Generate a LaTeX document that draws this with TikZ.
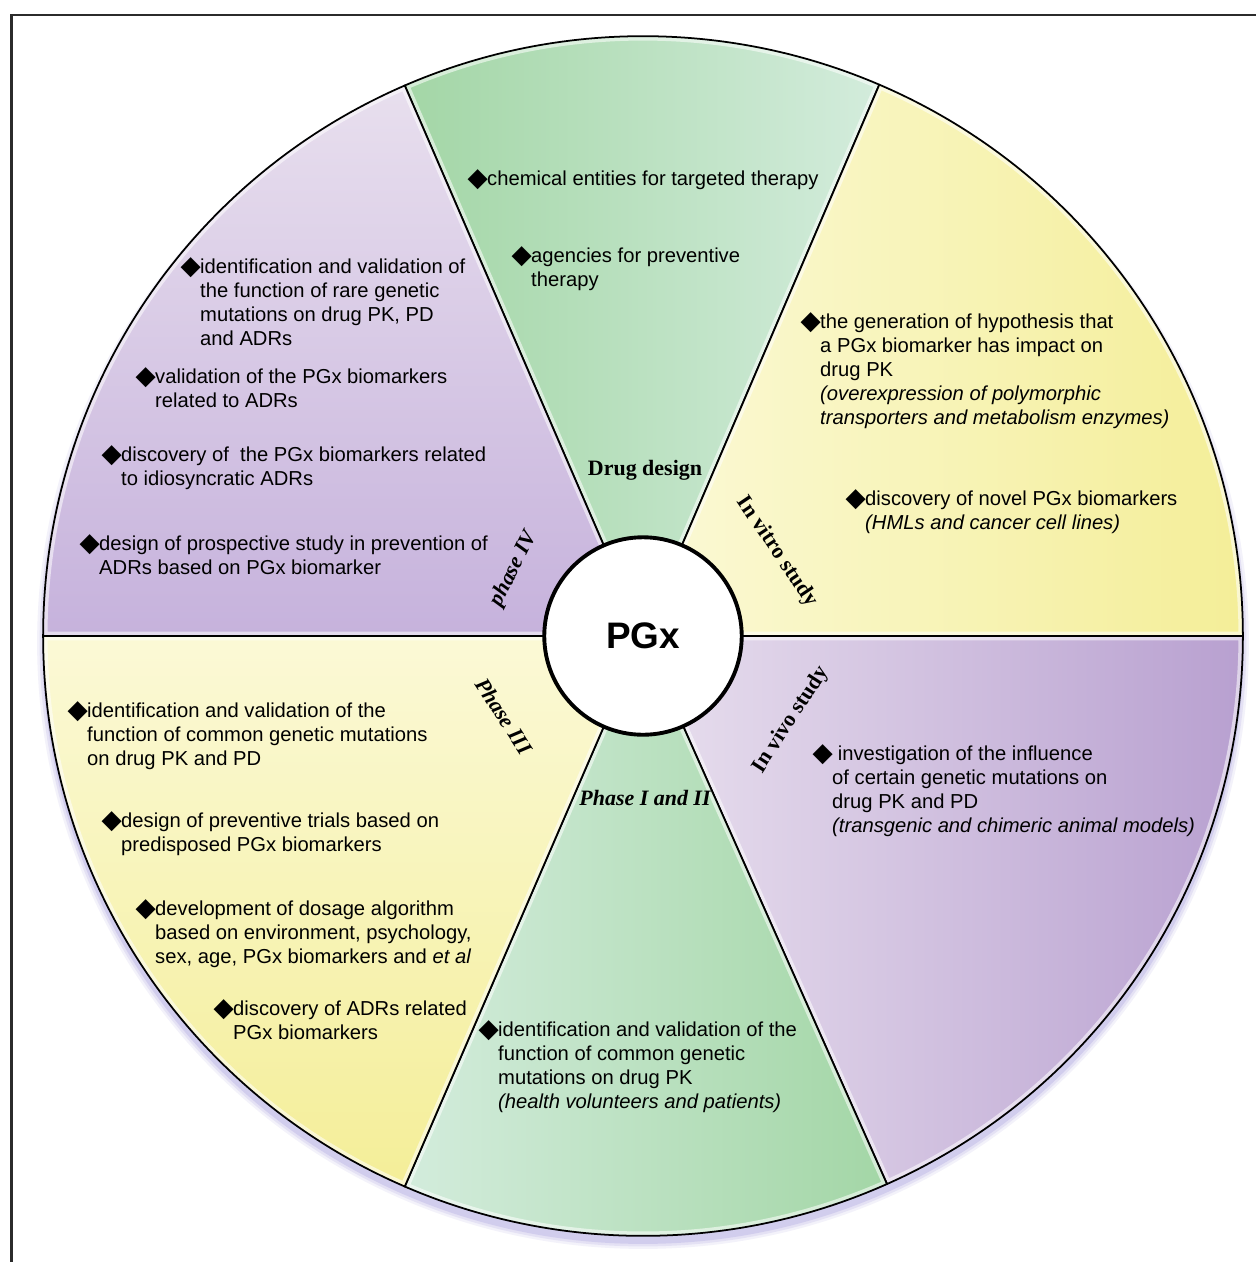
\documentclass[tikz,border=0pt]{standalone}
\usepackage{fontspec}
\usepackage{graphicx}
\setmainfont{Liberation Sans}
\newfontfamily\serifb{Liberation Serif}
\newfontfamily\dejavu{DejaVu Sans}
\usetikzlibrary{calc}
\definecolor{gdark}{HTML}{A3D6A6}
\definecolor{glight}{HTML}{D3ECDC}
\definecolor{ypale}{HTML}{FBF9D6}
\definecolor{ysat}{HTML}{F4EE98}
\definecolor{ppale}{HTML}{E8DFEE}
\definecolor{pdark}{HTML}{B8A0D0}
\definecolor{pmid}{HTML}{C6B2DC}
\definecolor{shadowc}{HTML}{8F86D6}
\definecolor{framec}{HTML}{2B2B2B}
\newcommand\dmd{\makebox[9.6pt][l]{\hspace{-1.6pt}\raisebox{-1.1pt}{\scalebox{1.3}{\dejavu\symbol{"25C6}}}}}
\newcommand\sector[3]{%
  \path[#3] (C) -- ($(C)+(#1:12cm)$) arc[start angle=#1,end angle=#2,radius=12cm] -- cycle;
  \begin{scope}
    \clip (C) -- ($(C)+(#1:12cm)$) arc[start angle=#1,end angle=#2,radius=12cm] -- cycle;
    \draw[white,opacity=.55,line width=5pt] (C) -- ($(C)+(#1:12cm)$) arc[start angle=#1,end angle=#2,radius=12cm] -- cycle;
  \end{scope}
  \draw[black,line width=1pt,line join=round] (C) -- ($(C)+(#1:12cm)$) arc[start angle=#1,end angle=#2,radius=12cm] -- cycle;
}
\tikzset{
  itm/.style={anchor=base west, inner sep=0pt, align=left,
    font=\fontsize{11.5}{13.8}\selectfont},
  lab/.style={inner sep=0pt, font=\fontsize{12.5}{14}\selectfont\serifb\bfseries},
  labi/.style={lab, font=\fontsize{12.5}{14}\selectfont\serifb\bfseries\itshape},
}
\begin{document}
\begin{tikzpicture}[x=0.02cm,y=-0.02cm]
\useasboundingbox (0,0) rectangle (1256,1262);
\fill[white] (0,0) rectangle (1256,1262);
\draw[framec,line width=1.6pt] (11.5,1262) -- (11.5,15) -- (1256,15);
\coordinate (C) at (643,636);
% soft shadow, mostly below
\foreach \r/\o in {12.12/0.10,12.07/0.15,12.02/0.22}{
  \fill[shadowc,opacity=\o] ($(C)+(0pt,-4pt)$) circle[radius=\r cm];
}
% sectors
\sector{66.8}{113.4}{left color=gdark,right color=glight}
\sector{0}{66.8}{left color=ypale,right color=ysat}
\sector{-66}{0}{left color=ppale,right color=pdark}
\sector{-113.4}{-66}{left color=glight,right color=gdark}
\sector{180}{246.6}{top color=ypale,bottom color=ysat}
\sector{113.4}{180}{top color=ppale,bottom color=pmid}
% centre
\node[circle,draw=black,line width=2.2pt,fill=white,minimum size=3.95cm,inner sep=0pt,
  font=\fontsize{21}{24}\selectfont\bfseries] (pgx) at (C) {PGx};
% sector labels
\node[lab] (ldrug) at (645,470) {Drug design};
\node[lab,rotate=-56] (lvitro) at (777,552) {In vitro study};
\node[lab,rotate=57] (lvivo) at (791,720) {In vivo study};
\node[labi,rotate=64] (lp4) at (514,569) {phase IV};
\node[labi,rotate=-57] (lp3) at (504,716) {Phase III};
\node[labi] (lp12) at (645,798) {Phase I and II};
% Drug design items
\node[itm] (d1) at (470,185) {\begin{tabular}[t]{@{}l@{}l@{}}\dmd&chemical entities for targeted therapy\end{tabular}};
\node[itm] (d2) at (514,262) {\begin{tabular}[t]{@{}l@{}l@{}}\dmd&agencies for preventive\\&therapy\end{tabular}};
% Phase IV items
\node[itm] (p4a) at (183,273) {\begin{tabular}[t]{@{}l@{}l@{}}\dmd&identification and validation of\\&the function of rare genetic\\&mutations on drug PK, PD\\&and ADRs\end{tabular}};
\node[itm] (p4b) at (138,383) {\begin{tabular}[t]{@{}l@{}l@{}}\dmd&validation of the PGx biomarkers\\&related to ADRs\end{tabular}};
\node[itm] (p4c) at (104,461) {\begin{tabular}[t]{@{}l@{}l@{}}\dmd&discovery of \ the PGx biomarkers related\\&to idiosyncratic ADRs\end{tabular}};
\node[itm] (p4d) at (82,550) {\begin{tabular}[t]{@{}l@{}l@{}}\dmd&design of prospective study in prevention of\\&ADRs based on PGx biomarker\end{tabular}};
% In vitro items
\node[itm] (v1) at (803,328) {\begin{tabular}[t]{@{}l@{}l@{}}\dmd&the generation of hypothesis that\\&a PGx biomarker has impact on\\&drug PK\\&\textit{(overexpression of polymorphic}\\&\textit{transporters and metabolism enzymes)}\end{tabular}};
\node[itm] (v2) at (848,505) {\begin{tabular}[t]{@{}l@{}l@{}}\dmd&discovery of novel PGx biomarkers\\&\textit{(HMLs and cancer cell lines)}\end{tabular}};
% In vivo items
\node[itm] (w1) at (815,760) {\begin{tabular}[t]{@{}l@{}l@{}}\dmd&\ investigation of the influence\\&of certain genetic mutations on\\&drug PK and PD\\&\textit{(transgenic and chimeric animal models)}\end{tabular}};
% Phase III items
\node[itm] (t1) at (70,717) {\begin{tabular}[t]{@{}l@{}l@{}}\dmd&identification and validation of the\\&function of common genetic mutations\\&on drug PK and PD\end{tabular}};
\node[itm] (t2) at (104,827) {\begin{tabular}[t]{@{}l@{}l@{}}\dmd&design of preventive trials based on\\&predisposed PGx biomarkers\end{tabular}};
\node[itm] (t3) at (138,915) {\begin{tabular}[t]{@{}l@{}l@{}}\dmd&development of dosage algorithm\\&based on environment, psychology,\\&sex, age, PGx biomarkers and \textit{et al}\end{tabular}};
\node[itm] (t4) at (216,1015) {\begin{tabular}[t]{@{}l@{}l@{}}\dmd&discovery of ADRs related\\&PGx biomarkers\end{tabular}};
% Phase I and II items
\node[itm] (g1) at (481,1036) {\begin{tabular}[t]{@{}l@{}l@{}}\dmd&identification and validation of the\\&function of common genetic\\&mutations on drug PK\\&\textit{(health volunteers and patients)}\end{tabular}};
\end{tikzpicture}
\end{document}
